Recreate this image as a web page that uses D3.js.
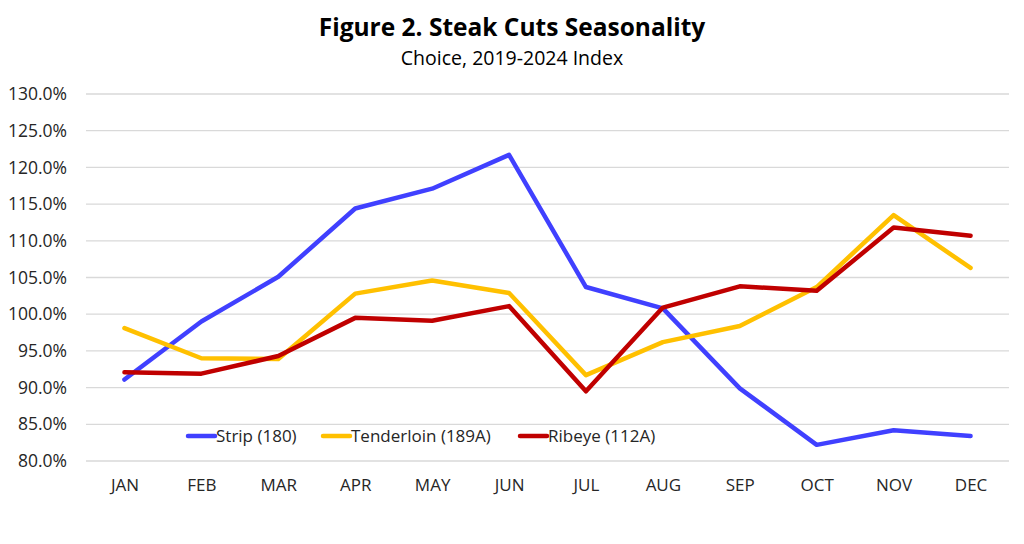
<!DOCTYPE html>
<html>
<head>
<meta charset="utf-8">
<script src="https://cdn.jsdelivr.net/npm/d3@7"></script>
<style>
  body { margin: 0; background: #fff; }
  svg { display: block; font-family: "Open Sans", "Noto Sans", sans-serif; }
</style>
</head>
<body>
<svg id="chart" width="1024" height="544"></svg>
<script>
var months = ["JAN", "FEB", "MAR", "APR", "MAY", "JUN", "JUL", "AUG", "SEP", "OCT", "NOV", "DEC"];
var strip = [91.1, 99.0, 105.1, 114.4, 117.1, 121.7, 103.7, 100.8, 89.9, 82.2, 84.2, 83.4];
var tenderloin = [98.1, 94.0, 93.9, 102.8, 104.6, 102.9, 91.7, 96.2, 98.4, 103.7, 113.5, 106.3];
var ribeye = [92.1, 91.9, 94.3, 99.5, 99.1, 101.1, 89.5, 100.9, 103.8, 103.2, 111.8, 110.7];
var yTicks = [80, 85, 90, 95, 100, 105, 110, 115, 120, 125, 130];

var series = [
    { name: "Strip (180)", values: strip, color: "#4040ff" },
    { name: "Tenderloin (189A)", values: tenderloin, color: "#ffc000" },
    { name: "Ribeye (112A)", values: ribeye, color: "#c00000" }
];

var svg = d3.select("#chart");
var margin = { left: 86, right: 15, top: 94, bottom: 83 };
var width = 1024 - margin.left - margin.right;
var height = 544 - margin.top - margin.bottom;

var x = d3.scalePoint()
    .domain(months)
    .range([0, width])
    .padding(0.5);

var y = d3.scaleLinear()
    .domain([80, 130])
    .range([height, 0]);

// title
svg.append("text")
    .attr("x", 512)
    .attr("y", 36)
    .attr("text-anchor", "middle")
    .attr("font-weight", "bold")
    .attr("font-size", 24.5)
    .attr("fill", "#000")
    .text("Figure 2. Steak Cuts Seasonality");

svg.append("text")
    .attr("x", 512)
    .attr("y", 65)
    .attr("text-anchor", "middle")
    .attr("font-size", 19.5)
    .attr("fill", "#000")
    .text("Choice, 2019-2024 Index");

var g = svg.append("g")
    .attr("transform", "translate(" + margin.left + "," + margin.top + ")");

// gridlines
g.append("g")
    .selectAll("line")
    .data(yTicks)
    .join("line")
    .attr("x1", 0)
    .attr("x2", width)
    .attr("y1", function(d) { return y(d); })
    .attr("y2", function(d) { return y(d); })
    .attr("stroke", "#d9d9d9")
    .attr("stroke-width", 1.3);

// y axis labels
var yAxis = d3.axisLeft(y)
    .tickValues(yTicks)
    .tickSize(0)
    .tickPadding(19)
    .tickFormat(function(d) { return d.toFixed(1) + "%"; });

g.append("g")
    .call(yAxis)
    .call(function(s) { s.select(".domain").remove(); })
    .selectAll("text")
    .attr("font-size", 17.5)
    .attr("font-family", "\"Open Sans\", sans-serif")
    .attr("fill", "#262626");

// x axis labels
var xAxis = d3.axisBottom(x).tickSize(0).tickPadding(18);

g.append("g")
    .attr("transform", "translate(0," + height + ")")
    .call(xAxis)
    .call(function(s) { s.select(".domain").remove(); })
    .selectAll("text")
    .attr("font-size", 17)
    .attr("font-family", "\"Open Sans\", sans-serif")
    .attr("fill", "#262626");

// lines
var line = d3.line()
    .x(function(d, i) { return x(months[i]); })
    .y(function(d) { return y(d); });

g.selectAll(".series")
    .data(series)
    .join("path")
    .attr("class", "series")
    .attr("d", function(d) { return line(d.values); })
    .attr("fill", "none")
    .attr("stroke", function(d) { return d.color; })
    .attr("stroke-width", 4.5)
    .attr("stroke-linejoin", "round")
    .attr("stroke-linecap", "round");

// legend
var legendX = [188, 323, 520];
var legend = svg.append("g")
    .selectAll("g")
    .data(series)
    .join("g")
    .attr("transform", function(d, i) { return "translate(" + legendX[i] + ",436)"; });

legend.append("line")
    .attr("x1", 0)
    .attr("x2", 27)
    .attr("stroke", function(d) { return d.color; })
    .attr("stroke-width", 4.5)
    .attr("stroke-linecap", "round");

legend.append("text")
    .attr("x", 28)
    .attr("dy", "0.35em")
    .attr("font-size", 17)
    .attr("fill", "#262626")
    .text(function(d) { return d.name; });
</script>
</body>
</html>
